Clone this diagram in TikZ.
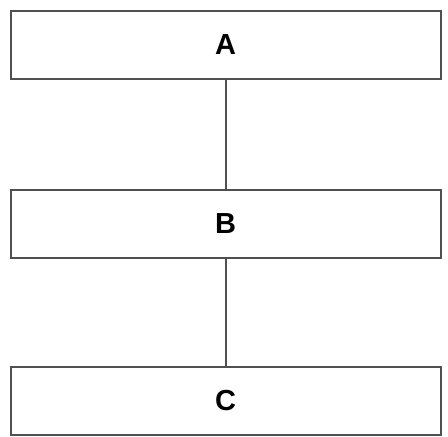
\documentclass[tikz,border=0pt]{standalone}
\usepackage{fontspec}
\setmainfont{Liberation Sans}
\definecolor{edge}{HTML}{505050}
\begin{document}
\begin{tikzpicture}[x=1pt,y=-1pt,
  blk/.style={draw=edge,line width=2pt,fill=white,minimum width=430pt,minimum height=68pt,inner sep=0pt,font=\fontsize{29}{32}\selectfont\bfseries},
  link/.style={draw=edge,line width=2pt}]
\useasboundingbox[fill=white] (0,0) rectangle (448,437);
\node[blk] (A) at (225.5,44.5) {A};
\node[blk] (B) at (225.5,223.5) {B};
\node[blk] (C) at (225.5,401) {C};
\draw[link] (A.south) -- (B.north);
\draw[link] (B.south) -- (C.north);
\end{tikzpicture}
\end{document}
